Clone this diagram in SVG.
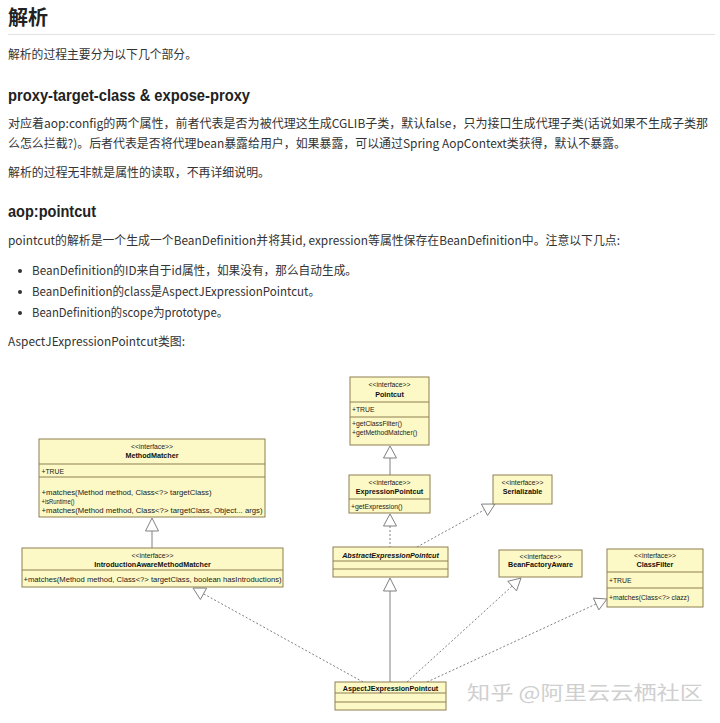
<svg xmlns="http://www.w3.org/2000/svg" width="720" height="723" viewBox="0 0 720 723">
<style>
.h1{font-family:"Noto Sans CJK SC","Noto Sans",sans-serif;font-weight:bold;font-size:20px;fill:#222}
.h2{font-family:"Liberation Sans","Noto Sans CJK SC",sans-serif;font-weight:bold;font-size:16px;fill:#222}
.p{font-family:"Noto Sans CJK SC","Noto Sans",sans-serif;font-size:12px;fill:#333}
.box{fill:#fcf9c6;stroke:#8f7f52;stroke-width:1}
.div{stroke:#8f7f52;stroke-width:1}
.st{font-family:"Liberation Sans",Arial,sans-serif;font-size:6.8px;fill:#222;text-anchor:middle}
.nm{font-family:"Liberation Sans",Arial,sans-serif;font-size:7.2px;font-weight:bold;fill:#111;text-anchor:middle}
.m{font-family:"Liberation Sans",Arial,sans-serif;font-size:6.8px;fill:#222}
.ln{stroke:#808080;stroke-width:1;fill:none}
.dl{stroke:#808080;stroke-width:1;fill:none;stroke-dasharray:2,2}
.tri{fill:#fff;stroke:#808080;stroke-width:1}
.wm{font-family:"Noto Sans CJK SC",sans-serif;font-size:19px;fill:#cfcfcf}
</style>
<rect width="720" height="723" fill="#fff"/>
<g id="text">
<text class="h1" x="8" y="25">解析</text>
<line x1="8" y1="34.5" x2="715" y2="34.5" stroke="#e3e3e3" stroke-width="1"/>
<text class="p" x="8" y="59" textLength="189" lengthAdjust="spacingAndGlyphs">解析的过程主要分为以下几个部分。</text>
<text class="h2" x="8" y="101" textLength="242" lengthAdjust="spacingAndGlyphs">proxy-target-class &amp; expose-proxy</text>
<text class="p" x="8" y="128" font-size="11.6" textLength="700" lengthAdjust="spacingAndGlyphs">对应着aop:config的两个属性，前者代表是否为被代理这生成CGLIB子类，默认false，只为接口生成代理子类(话说如果不生成子类那</text>
<text class="p" x="8" y="148" textLength="618" lengthAdjust="spacingAndGlyphs">么怎么拦截?)。后者代表是否将代理bean暴露给用户，如果暴露，可以通过Spring AopContext类获得，默认不暴露。</text>
<text class="p" x="8" y="177" textLength="262" lengthAdjust="spacingAndGlyphs">解析的过程无非就是属性的读取，不再详细说明。</text>
<text class="h2" x="8" y="217" textLength="88" lengthAdjust="spacingAndGlyphs">aop:pointcut</text>
<text class="p" x="8" y="245" textLength="612" lengthAdjust="spacingAndGlyphs">pointcut的解析是一个生成一个BeanDefinition并将其id, expression等属性保存在BeanDefinition中。注意以下几点:</text>
<circle cx="20" cy="271" r="2" fill="#333"/>
<text class="p" x="32" y="275" textLength="325" lengthAdjust="spacingAndGlyphs">BeanDefinition的ID来自于id属性，如果没有，那么自动生成。</text>
<circle cx="20" cy="292" r="2" fill="#333"/>
<text class="p" x="32" y="296" textLength="288" lengthAdjust="spacingAndGlyphs">BeanDefinition的class是AspectJExpressionPointcut。</text>
<circle cx="20" cy="313" r="2" fill="#333"/>
<text class="p" x="32" y="317" textLength="196" lengthAdjust="spacingAndGlyphs">BeanDefinition的scope为prototype。</text>
<text class="p" x="8" y="346" textLength="177" lengthAdjust="spacingAndGlyphs">AspectJExpressionPointcut类图:</text>
</g>
<g id="connectors">
<line class="ln" x1="390" y1="458" x2="390" y2="475"/>
<polygon class="tri" points="390,446 383.5,458 396.5,458"/>
<line class="dl" x1="390" y1="526" x2="390" y2="547"/>
<polygon class="tri" points="390,514 383.5,526 396.5,526"/>
<line class="dl" x1="417" y1="547" x2="484.5" y2="509.8"/>
<polygon class="tri" points="495,504 487.6,515.5 481.4,504.1"/>
<line class="ln" x1="152" y1="531" x2="152" y2="548"/>
<polygon class="tri" points="152,518 145.5,531 158.5,531"/>
<line class="ln" x1="390" y1="591" x2="390" y2="682"/>
<polygon class="tri" points="390,578 383.5,591 396.5,591"/>
<line class="dl" x1="363" y1="682" x2="203.5" y2="593.8"/>
<polygon class="tri" points="193,588 206.6,588.1 200.4,599.5"/>
<line class="dl" x1="407" y1="682" x2="512.1" y2="586.1"/>
<polygon class="tri" points="521,578 516.5,590.9 507.8,581.3"/>
<line class="dl" x1="427" y1="682" x2="596.1" y2="604"/>
<polygon class="tri" points="607,599 598.8,609.9 593.4,598.1"/>
</g>
<g id="Pointcut">
<rect class="box" x="350" y="377" width="79" height="68"/>
<line class="div" x1="350" y1="402" x2="429" y2="402"/>
<line class="div" x1="350" y1="417" x2="429" y2="417"/>
<text class="st" x="389.5" y="387">&lt;&lt;interface&gt;&gt;</text>
<text class="nm" x="389.5" y="396.5">Pointcut</text>
<text class="m" x="352" y="411.5">+TRUE</text>
<text class="m" x="352" y="425.5">+getClassFilter()</text>
<text class="m" x="352" y="435">+getMethodMatcher()</text>
</g>
<g id="MethodMatcher">
<rect class="box" x="39" y="439" width="226" height="78"/>
<line class="div" x1="39" y1="464" x2="265" y2="464"/>
<line class="div" x1="39" y1="477" x2="265" y2="477"/>
<text class="st" x="152" y="448.5">&lt;&lt;interface&gt;&gt;</text>
<text class="nm" x="152" y="457.5">MethodMatcher</text>
<text class="m" x="41.5" y="473.5">+TRUE</text>
<text class="m" x="41.5" y="495" textLength="170" lengthAdjust="spacingAndGlyphs">+matches(Method method, Class&lt;?&gt; targetClass)</text>
<text class="m" x="41.5" y="503.5" textLength="33" lengthAdjust="spacingAndGlyphs">+isRuntime()</text>
<text class="m" x="41.5" y="512.5" textLength="221" lengthAdjust="spacingAndGlyphs">+matches(Method method, Class&lt;?&gt; targetClass, Object... args)</text>
</g>
<g id="IntroductionAwareMethodMatcher">
<rect class="box" x="22" y="548" width="261" height="39"/>
<line class="div" x1="22" y1="570" x2="283" y2="570"/>
<text class="st" x="152.5" y="558">&lt;&lt;interface&gt;&gt;</text>
<text class="nm" x="152.5" y="567">IntroductionAwareMethodMatcher</text>
<text class="m" x="23.5" y="581.5" textLength="258" lengthAdjust="spacingAndGlyphs">+matches(Method method, Class&lt;?&gt; targetClass, boolean hasIntroductions)</text>
</g>
<g id="ExpressionPointcut">
<rect class="box" x="349" y="475" width="81" height="38"/>
<line class="div" x1="349" y1="499" x2="430" y2="499"/>
<text class="st" x="389.5" y="485">&lt;&lt;interface&gt;&gt;</text>
<text class="nm" x="389.5" y="494">ExpressionPointcut</text>
<text class="m" x="351" y="508.5">+getExpression()</text>
</g>
<g id="Serializable">
<rect class="box" x="493" y="475" width="59" height="29"/>
<text class="st" x="522.5" y="484.5">&lt;&lt;interface&gt;&gt;</text>
<text class="nm" x="522.5" y="493.5">Serializable</text>
</g>
<g id="AbstractExpressionPointcut">
<rect class="box" x="333" y="547" width="115" height="30"/>
<line class="div" x1="333" y1="561" x2="448" y2="561"/>
<line class="div" x1="333" y1="569" x2="448" y2="569"/>
<text class="nm" x="390.5" y="557.5" font-style="italic">AbstractExpressionPointcut</text>
</g>
<g id="BeanFactoryAware">
<rect class="box" x="499" y="550" width="83" height="27"/>
<text class="st" x="540.5" y="558.5">&lt;&lt;interface&gt;&gt;</text>
<text class="nm" x="540.5" y="567">BeanFactoryAware</text>
</g>
<g id="ClassFilter">
<rect class="box" x="607" y="549" width="96" height="58"/>
<line class="div" x1="607" y1="572" x2="703" y2="572"/>
<line class="div" x1="607" y1="588" x2="703" y2="588"/>
<text class="st" x="655" y="558">&lt;&lt;interface&gt;&gt;</text>
<text class="nm" x="655" y="567">ClassFilter</text>
<text class="m" x="609" y="582.5">+TRUE</text>
<text class="m" x="609" y="600">+matches(Class&lt;?&gt; clazz)</text>
</g>
<g id="AspectJExpressionPointcut">
<rect class="box" x="335" y="682" width="111" height="28"/>
<line class="div" x1="335" y1="693" x2="446" y2="693"/>
<line class="div" x1="335" y1="702" x2="446" y2="702"/>
<text class="nm" x="390.5" y="690.5">AspectJExpressionPointcut</text>
</g>
<text class="wm" x="467" y="700" textLength="236" lengthAdjust="spacingAndGlyphs">知乎 @阿里云云栖社区</text>
</svg>
